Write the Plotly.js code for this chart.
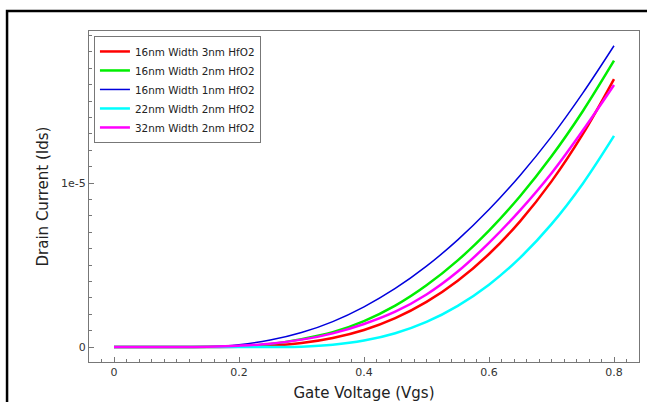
<!DOCTYPE html>
<html>
<head>
<meta charset="utf-8">
<script src="https://cdn.plot.ly/plotly-3.0.1.min.js"></script>
<style>
html,body{margin:0;padding:0;background:#fff;overflow:hidden;}
#chart{width:647px;height:402px;}
</style>
</head>
<body>
<div id="chart"></div>
<script>
// Gate voltage (V)
var vgs = [0, 0.05, 0.10, 0.15, 0.20, 0.25, 0.30, 0.35, 0.40, 0.45, 0.50, 0.55, 0.60, 0.65, 0.70, 0.75, 0.80];

// Drain current (A)
var red16w3nm   = [0, 0, 0, 0.0002e-5, 0.001e-5, 0.0075e-5, 0.024e-5, 0.055e-5, 0.104e-5, 0.176e-5, 0.275e-5, 0.404e-5, 0.567e-5, 0.768e-5, 1.010e-5, 1.298e-5, 1.634e-5];
var green16w2nm = [0, 0, 0, 0.001e-5, 0.005e-5, 0.018e-5, 0.048e-5, 0.09e-5, 0.158e-5, 0.252e-5, 0.376e-5, 0.528e-5, 0.710e-5, 0.921e-5, 1.163e-5, 1.438e-5, 1.746e-5];
var blue16w1nm  = [0, 0, 0, 0.0015e-5, 0.014e-5, 0.042e-5, 0.088e-5, 0.155e-5, 0.245e-5, 0.357e-5, 0.493e-5, 0.653e-5, 0.838e-5, 1.048e-5, 1.283e-5, 1.548e-5, 1.837e-5];
var cyan22w2nm  = [0, 0, 0, 0, 0, 0.0005e-5, 0.002e-5, 0.013e-5, 0.039e-5, 0.084e-5, 0.153e-5, 0.251e-5, 0.380e-5, 0.545e-5, 0.749e-5, 0.996e-5, 1.287e-5];
var mag32w2nm   = [0, 0, 0, 0.002e-5, 0.008e-5, 0.02e-5, 0.045e-5, 0.083e-5, 0.14e-5, 0.215e-5, 0.32e-5, 0.46e-5, 0.635e-5, 0.835e-5, 1.06e-5, 1.32e-5, 1.598e-5];

var seriesNames = ["16nm Width 3nm HfO2", "16nm Width 2nm HfO2", "16nm Width 1nm HfO2", "22nm Width 2nm HfO2", "32nm Width 2nm HfO2"];
var seriesColors = ["#ff0000", "#00ee00", "#0000dd", "#00ffff", "#ff00ff"];
var seriesWidths = [2.5, 2.5, 1.5, 2.5, 2.5];
var seriesData = [red16w3nm, green16w2nm, blue16w1nm, cyan22w2nm, mag32w2nm];

var yTickVals = [0, 1e-5];
var yTickText = ["0", "1e-5"];
var xTickVals = [0, 0.2, 0.4, 0.6, 0.8];
var xTickText = ["0", "0.2", "0.4", "0.6", "0.8"];

var traces = seriesData.map(function (d, i) {
  return {
    x: vgs, y: d, type: "scatter", mode: "lines",
    name: seriesNames[i],
    line: {color: seriesColors[i], width: seriesWidths[i], shape: "spline", smoothing: 1}
  };
});

var font = "DejaVu Sans, sans-serif";
var layout = {
  width: 647, height: 402,
  margin: {l: 89, r: 8, t: 31, b: 40},
  paper_bgcolor: "#ffffff", plot_bgcolor: "#ffffff",
  font: {family: font, size: 11, color: "#222"},
  showlegend: true,
  legend: {
    x: 0.009, y: 0.985, xanchor: "left", yanchor: "top",
    bgcolor: "#ffffff", bordercolor: "#777", borderwidth: 1,
    font: {family: font, size: 10.4, color: "#222"},
    tracegroupgap: 0, itemwidth: 30
  },
  xaxis: {
    range: [-0.04, 0.84],
    tickmode: "array", tickvals: xTickVals, ticktext: xTickText,
    ticks: "inside", ticklen: 5, tickcolor: "#777", tickwidth: 1,
    minor: {dtick: 0.02, tick0: 0, ticks: "inside", ticklen: 3, tickcolor: "#777", showgrid: false},
    showline: true, linecolor: "#777", linewidth: 1, mirror: true,
    showgrid: false, zeroline: false,
    tickfont: {family: font, size: 11, color: "#333"},
    title: {text: "Gate Voltage (Vgs)", font: {family: font, size: 15, color: "#222"}, standoff: 15}
  },
  yaxis: {
    range: [-0.0915e-5, 1.927e-5],
    tickmode: "array", tickvals: yTickVals, ticktext: yTickText,
    ticks: "inside", ticklen: 5, tickcolor: "#777", tickwidth: 1,
    minor: {dtick: 1e-6, tick0: 0, ticks: "inside", ticklen: 3, tickcolor: "#777", showgrid: false},
    showline: true, linecolor: "#777", linewidth: 1, mirror: true,
    showgrid: false, zeroline: false,
    tickfont: {family: font, size: 11, color: "#333"},
    title: {text: "Drain Current (Ids)", font: {family: font, size: 15, color: "#222"}, standoff: 8}
  },
  shapes: [{
    type: "rect", xref: "paper", yref: "paper",
    x0: -0.149, x1: 1.2, y0: -0.5, y1: 1.0604,
    line: {color: "#000", width: 2.5}, fillcolor: "rgba(0,0,0,0)", layer: "above"
  }]
};

Plotly.newPlot("chart", traces, layout, {displayModeBar: false, staticPlot: true});
</script>
</body>
</html>
